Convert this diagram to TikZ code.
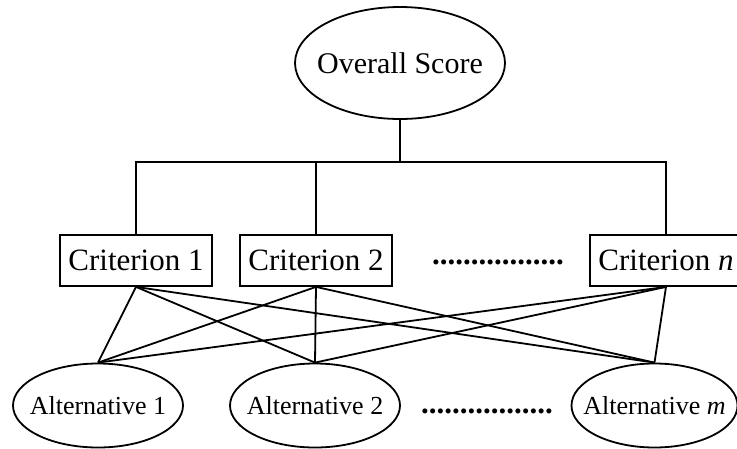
\documentclass[tikz,border=0pt]{standalone}
\usepackage{fontspec}
\setmainfont{Liberation Serif}
\usetikzlibrary{shapes.geometric}

\begin{document}
\begin{tikzpicture}[x=1pt,y=-1pt,line width=1.8pt,
  big/.style={font=\fontsize{31}{33}\selectfont},
  small/.style={font=\fontsize{26}{28}\selectfont},
  topnode/.style={draw,ellipse,inner sep=0pt,minimum width=210pt,minimum height=112pt,
    font=\fontsize{30}{32}\selectfont},
  crit/.style={draw,rectangle,inner sep=0pt,minimum width=152pt,minimum height=51pt,big},
  alt/.style={draw,ellipse,inner sep=0pt,minimum width=170pt,minimum height=84pt,small},
  dots/.style={font=\fontsize{31}{33}\selectfont\bfseries},
  link/.style={line width=1.8pt}]
  \useasboundingbox (0,0) rectangle (737,448);
  \clip (0,0) rectangle (737,448);

  % root
  \node[topnode] (o) at (400,63) {\makebox[0pt]{Overall Score}};

  % criteria
  \node[crit] (c1) at (136,260.5) {Criterion 1};
  \node[crit] (c2) at (316,260.5) {Criterion 2};
  \node[crit] (cn) at (666,260.5) {Criterion \textit{n}};
  \node[dots] (cd) at (498,262) {.................};

  % alternatives
  \node[alt] (a1) at (98,405.5) {\makebox[0pt]{Alternative 1}};
  \node[alt] (a2) at (315,405.5) {\makebox[0pt]{Alternative 2}};
  \node[alt,minimum width=166pt] (am) at (654.5,405.5) {\makebox[0pt]{Alternative \textit{m}}};
  \node[dots] (ad) at (487,411) {.................};

  % tree from the root to the criteria
  \coordinate (j) at (400,162);
  \draw[link] (o.south) -- (j);
  \draw[link] (c1.north) |- (j);
  \draw[link] (c2.north) |- (j);
  \draw[link] (cn.north) |- (j);

  % every criterion linked to every alternative
  \foreach \c in {c1,c2,cn}
    \foreach \a in {a1,a2,am}
      \draw[link] (\c.south) -- (\a.north);
\end{tikzpicture}
\end{document}
